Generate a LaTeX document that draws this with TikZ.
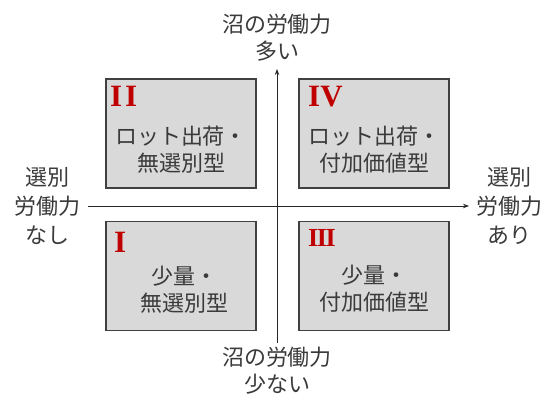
\documentclass[tikz,border=0pt]{standalone}
\usepackage{fontspec}
\setmainfont{Liberation Serif}
\newfontfamily\jpfont{Noto Sans CJK JP}
\usetikzlibrary{arrows.meta}
\definecolor{boxfill}{HTML}{D9D9D9}
\definecolor{boxline}{HTML}{404040}
\definecolor{txtgray}{HTML}{3A3A3A}
\definecolor{romred}{HTML}{C00000}
\begin{document}
\begin{tikzpicture}[x=1pt,y=-1pt,
  quad/.style={draw=boxline, line width=1.3pt, fill=boxfill, minimum width=150pt, minimum height=109pt, inner sep=0pt},
  jtext/.style={font=\jpfont\fontsize{22}{27}\selectfont, text=txtgray, align=center, inner sep=0pt},
  roman/.style={font=\bfseries\fontsize{31}{31}\selectfont, text=romred, inner sep=0pt, anchor=base west},
  axisline/.style={line width=0.9pt, draw=black!85, -{Stealth[length=6pt,width=4.5pt]}}]
\useasboundingbox (0,0) rectangle (550,401);
% quadrant boxes
\node[quad] (q2) at (181,133.5) {};
\node[quad] (q4) at (374,133.5) {};
\node[quad] (q1) at (181,276) {};
\node[quad] (q3) at (374,276) {};
% axes
\coordinate (vb) at (277,343);
\coordinate (vt) at (277,69);
\coordinate (hl) at (88,206);
\coordinate (hr) at (469,206);
\draw[axisline] (vb) -- (vt);
\draw[axisline] (hl) -- (hr);
% roman numerals
\node[roman] (r2) at (110,107) {I\kern3pt I};
\node[roman] (r4) at (308,107) {IV};
\node[roman] (r1) at (114,253) {I};
\node[roman, font=\bfseries\fontsize{26}{26}\selectfont] (r3) at (308,247) {I\kern-1.4pt I\kern-1.4pt I};
% box texts
\node[jtext] (t2) at (181,150) {ロット出荷・\\無選別型};
\node[jtext] (t4) at (374,150) {ロット出荷・\\付加価値型};
\node[jtext] (t1) at (184,290) {少量・\\無選別型};
\node[jtext] (t3) at (374,289) {少量・\\付加価値型};
% axis labels
\node[jtext] (top) at (277,38) {沼の労働力\\多い};
\node[jtext] (bot) at (277,371) {沼の労働力\\少ない};
\node[jtext, font=\jpfont\fontsize{22}{29}\selectfont] (lft) at (48,206) {選別\\労働力\\なし};
\node[jtext, font=\jpfont\fontsize{22}{29}\selectfont] (rgt) at (509,206) {選別\\労働力\\あり};
\end{tikzpicture}
\end{document}
